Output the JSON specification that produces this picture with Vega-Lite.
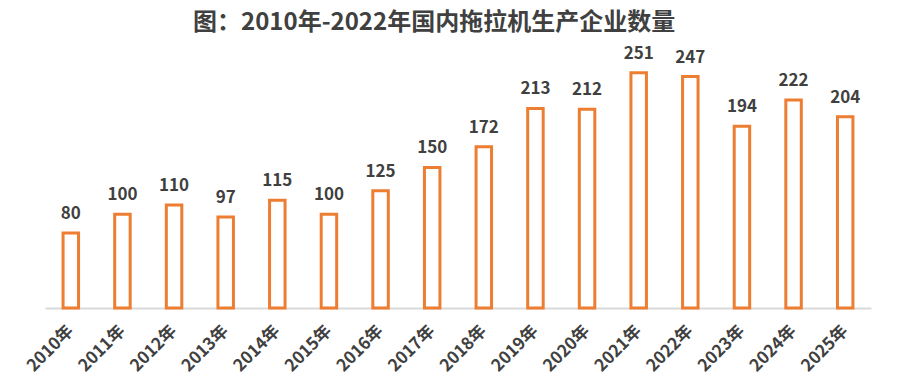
{
  "$schema": "https://vega.github.io/schema/vega-lite/v6.json",
  "width": 826,
  "height": 253,
  "autosize": "none",
  "padding": {"left": 45, "top": 55, "right": 29, "bottom": 75},
  "background": "white",
  "title": {
    "text": "图：2010年-2022年国内拖拉机生产企业数量",
    "font": "Noto Sans CJK SC",
    "fontSize": 24,
    "fontWeight": "bold",
    "color": "#404040",
    "anchor": "start",
    "frame": "group",
    "dx": 148,
    "offset": 10
  },
  "data": {
    "values": [
      {"year": "2010年", "value": 80},
      {"year": "2011年", "value": 100},
      {"year": "2012年", "value": 110},
      {"year": "2013年", "value": 97},
      {"year": "2014年", "value": 115},
      {"year": "2015年", "value": 100},
      {"year": "2016年", "value": 125},
      {"year": "2017年", "value": 150},
      {"year": "2018年", "value": 172},
      {"year": "2019年", "value": 213},
      {"year": "2020年", "value": 212},
      {"year": "2021年", "value": 251},
      {"year": "2022年", "value": 247},
      {"year": "2023年", "value": 194},
      {"year": "2024年", "value": 222},
      {"year": "2025年", "value": 204}
    ]
  },
  "encoding": {
    "x": {
      "field": "year",
      "type": "nominal",
      "sort": null,
      "scale": {"paddingInner": 0.7, "paddingOuter": 0.35},
      "axis": {
        "title": null,
        "labelAngle": -45,
        "labelAlign": "right",
        "labelBaseline": "middle",
        "labelFont": "Noto Sans CJK SC",
        "labelFontSize": 17,
        "labelFontWeight": "bold",
        "labelColor": "#404040",
        "labelPadding": 20,
        "ticks": false,
        "domain": true,
        "domainColor": "#d9d9d9",
        "domainWidth": 2,
        "grid": false
      }
    },
    "y": {
      "field": "value",
      "type": "quantitative",
      "scale": {"domain": [0, 270], "nice": false},
      "axis": null
    }
  },
  "layer": [
    {
      "mark": {"type": "bar", "fill": "white", "stroke": "#ED7D31", "strokeWidth": 3}
    },
    {
      "mark": {
        "type": "text",
        "baseline": "bottom",
        "dy": -10,
        "font": "Noto Sans CJK SC",
        "fontSize": 17,
        "fontWeight": "bold",
        "color": "#404040"
      },
      "encoding": {"text": {"field": "value", "type": "quantitative"}}
    }
  ],
  "config": {"view": {"stroke": null}}
}
